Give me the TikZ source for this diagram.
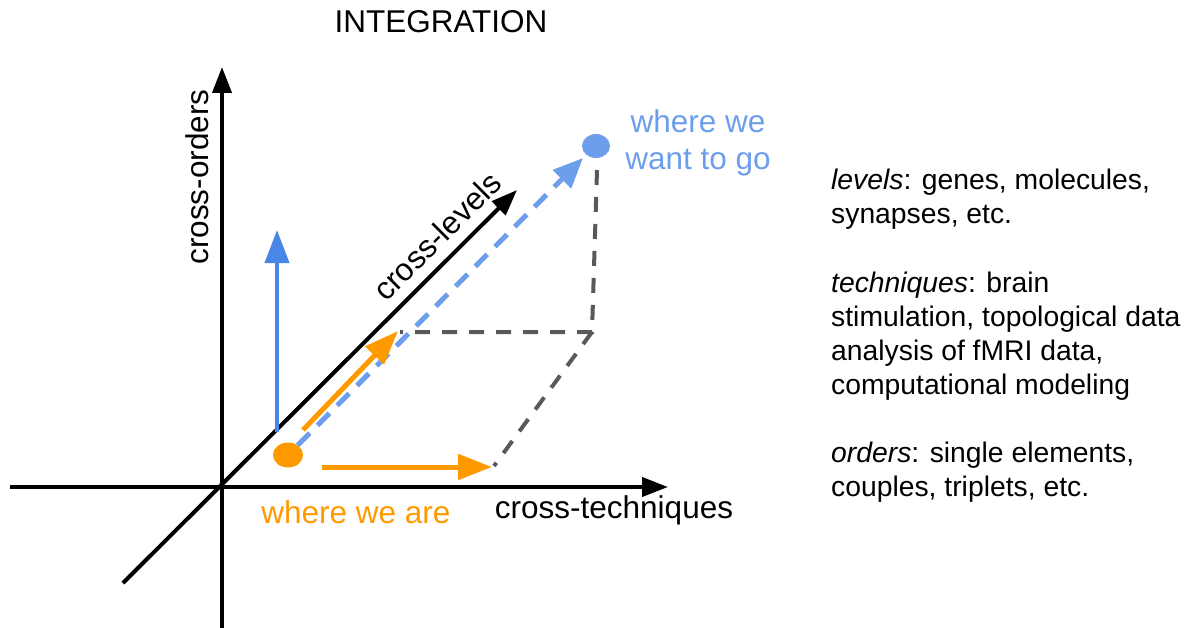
\documentclass[tikz,border=0pt]{standalone}
\usepackage{fontspec}
\setmainfont{Liberation Sans}
\usetikzlibrary{arrows.meta,shapes.geometric}
\definecolor{orng}{HTML}{FF9900}
\definecolor{lblue}{HTML}{6D9EEB}
\definecolor{dblue}{HTML}{4A86E8}
\definecolor{dgray}{HTML}{595959}
\begin{document}
\begin{tikzpicture}[x=1pt,y=-1pt,
  axisline/.style={line width=4pt,-{Triangle[length=26pt,width=19pt]}},
  oarrow/.style={orng,line width=5pt,-{Triangle[length=34pt,width=25pt]}},
  varrow/.style={dblue,line width=4pt,-{Triangle[length=33pt,width=24pt]}},
  darrow/.style={lblue,line width=5pt,dash pattern=on 17pt off 11pt,-{Triangle[length=30pt,width=25pt]}},
  gdash/.style={dgray,line width=4pt,dash pattern=on 15pt off 12pt},
  lbl/.style={font=\fontsize{31.5}{37}\selectfont,inner sep=0pt},
  side/.style={font=\fontsize{28.3}{34}\selectfont,anchor=base west,inner sep=0pt},
  dot/.style={ellipse,inner sep=0pt}]
\useasboundingbox (0,0) rectangle (1190,628);
% axes
\coordinate (vb) at (222,628);
\coordinate (vt) at (222,67);
\coordinate (hl) at (10,487);
\coordinate (hr) at (668,487);
\coordinate (db) at (123,583);
\coordinate (dt) at (517,190);
\draw[axisline] (vb) -- (vt);
\draw[axisline] (hl) -- (hr);
\draw[axisline] (db) -- (dt);
% gray dashed box
\coordinate (g1) at (400,332);
\coordinate (g2) at (592,332);
\coordinate (g3) at (597,170);
\coordinate (g4) at (494,466);
\draw[gdash] (g3) -- (g2) -- (g1);
\draw[gdash] (g2) -- (g4);
% dots
\node[dot,fill=orng,minimum width=30pt,minimum height=25pt] (odot) at (288,455) {};
\node[dot,fill=lblue,minimum width=28pt,minimum height=24pt] (bdot) at (596,146) {};
% arrows
\coordinate (bt) at (583,158);
\draw[darrow] (odot) -- (bt);
\coordinate (oh1) at (322,467);
\coordinate (oh2) at (492,467);
\draw[oarrow] (oh1) -- (oh2);
\coordinate (od1) at (303,430);
\coordinate (od2) at (398,331);
\draw[oarrow] (od1) -- (od2);
\coordinate (bv1) at (277,432);
\coordinate (bv2) at (277,230);
\draw[varrow] (bv1) -- (bv2);
% labels
\node[lbl] (title) at (441,22) {INTEGRATION};
\node[lbl,rotate=90] (co) at (197,177) {cross-orders};
\node[lbl,rotate=45] (cl) at (437,236) {cross-levels};
\node[lbl] (ct) at (614,510) {cross-techniques};
\node[lbl,text=orng] (wa) at (356,512) {where we are};
\node[lbl,text=lblue,align=center] (wg) at (698,143) {where we\\want to go};
% side text
\node[side] (s1) at (831,190) {\textit{levels}: genes, molecules,};
\node[side] (s2) at (831,224) {synapses, etc.};
\node[side] (s3) at (831,292) {\textit{techniques}: brain};
\node[side] (s4) at (831,326) {stimulation, topological data};
\node[side] (s5) at (831,360) {analysis of fMRI data,};
\node[side] (s6) at (831,394) {computational modeling};
\node[side] (s7) at (831,462) {\textit{orders}: single elements,};
\node[side] (s8) at (831,496) {couples, triplets, etc.};
\end{tikzpicture}
\end{document}
